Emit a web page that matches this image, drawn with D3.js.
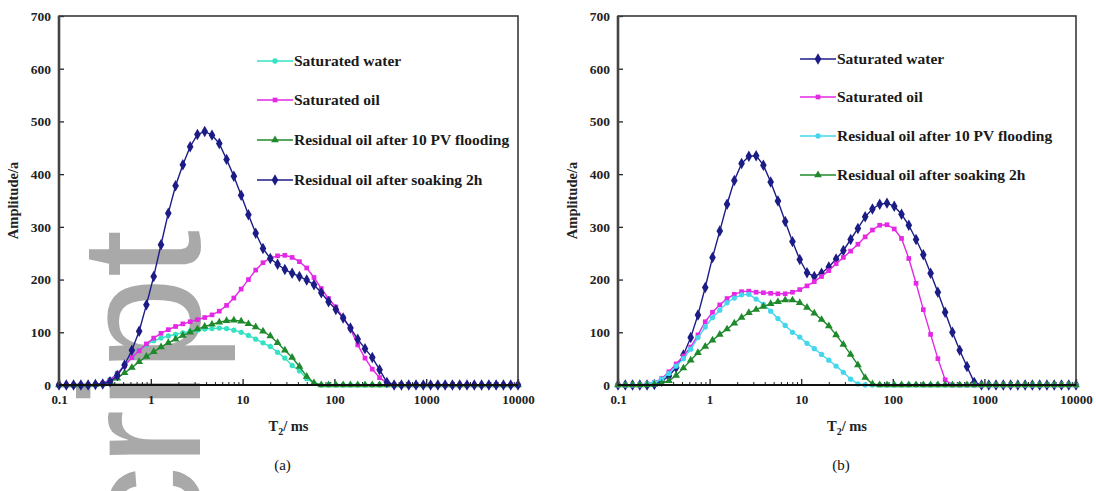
<!DOCTYPE html>
<html>
<head>
<meta charset="utf-8">
<script src="https://cdn.jsdelivr.net/npm/d3@7"></script>
<style>
  body { margin: 0; background: #fff; }
  svg { display: block; }
</style>
</head>
<body>
<svg id="chart" width="1096" height="491"></svg>
<script>
// NMR T2 relaxation grid (ms), 64 log-spaced points from 0.1 to 10000
const t2 = [
  0.1, 0.1201, 0.1441, 0.173, 0.2077, 0.2493, 0.2994, 0.3594, 0.4314, 0.5179,
  0.6218, 0.7464, 0.896, 1.0758, 1.2915, 1.5505, 1.8615, 2.2346, 2.6827, 3.2206,
  3.8663, 4.6416, 5.5722, 6.6896, 8.0308, 9.6412, 11.574, 13.895, 16.681, 20.025,
  24.04, 28.862, 34.647, 41.595, 49.934, 59.948, 71.969, 86.398, 103.72, 124.52,
  149.49, 179.46, 215.44, 258.65, 310.5, 372.76, 447.51, 537.24, 644.96, 774.26,
  929.52, 1115.9, 1339.6, 1608.2, 1930.7, 2317.8, 2782.6, 3340.5, 4010.4, 4814.5,
  5779.8, 6938.8, 8330, 10000
];

const xTickValues = [0.1, 1, 10, 100, 1000, 10000];
const xTickLabels = ["0.1", "1", "10", "100", "1000", "10000"];
const yTickValues = [0, 100, 200, 300, 400, 500, 600, 700];

// Panel (a) amplitudes
const aSaturatedWater = [
  0, 0, 0, 0, 0, 1, 3, 10, 22, 38,
  52, 66, 76, 84, 89, 93, 96, 99, 102, 104,
  106, 107, 108, 107, 104, 100, 94, 87, 80, 73,
  62, 51, 37, 27, 12, 3, 0, 0, 0, 0,
  0, 0, 0, 0, 0, 0, 0, 0, 0, 0,
  0, 0, 0, 0, 0, 0, 0, 0, 0, 0,
  0, 0, 0, 0
];
const aSaturatedOil = [
  0, 0, 0, 0, 0, 1, 3, 9, 22, 36,
  52, 65, 78, 89, 98, 105, 111, 116, 120, 124,
  128, 133, 140, 151, 165, 182, 200, 218, 232, 241,
  245, 246, 242, 234, 222, 204, 183, 164, 148, 128,
  107, 76, 51, 30, 14, 4, 0, 0, 0, 0,
  0, 0, 0, 0, 0, 0, 0, 0, 0, 0,
  0, 0, 0, 0
];
const aFlooding = [
  0, 0, 0, 0, 0, 1, 2, 6, 13, 23,
  33, 44, 54, 63, 72, 80, 87, 94, 100, 106,
  111, 115, 119, 122, 123, 121, 116, 110, 102, 93,
  80, 66, 52, 35, 16, 4, 0, 0, 0, 0,
  0, 0, 0, 0, 0, 0, 0, 0, 0, 0,
  0, 0, 0, 0, 0, 0, 0, 0, 0, 0,
  0, 0, 0, 0
];
const aSoaking = [
  0, 0, 0, 0, 0, 1, 2, 6, 18, 38,
  66, 102, 152, 206, 266, 326, 378, 418, 452, 475,
  481, 474, 458, 428, 396, 360, 323, 288, 259, 240,
  229, 219, 212, 206, 199, 190, 175, 158, 143, 127,
  108, 87, 69, 52, 29, 5, 0, 0, 0, 0,
  0, 0, 0, 0, 0, 0, 0, 0, 0, 0,
  0, 0, 0, 0
];

// Panel (b) amplitudes
const bSaturatedWater = [
  0, 0, 0, 0, 0, 1, 7, 17, 33, 57,
  90, 133, 185, 242, 292, 343, 388, 420, 434, 435,
  417, 385, 349, 310, 272, 238, 213, 206, 212, 224,
  239, 255, 276, 297, 319, 334, 343, 345, 339, 324,
  303, 276, 247, 212, 176, 138, 100, 66, 35, 5,
  0, 0, 0, 0, 0, 0, 0, 0, 0, 0,
  0, 0, 0, 0
];
const bSaturatedOil = [
  0, 0, 0, 0, 2, 5, 12, 25, 40, 55,
  72, 95, 120, 138, 152, 164, 172, 177, 178, 176,
  175, 174, 173, 173, 176, 181, 188, 196, 206, 217,
  230, 242, 254, 267, 281, 294, 303, 304, 296, 278,
  240, 193, 143, 96, 50, 10, 0, 0, 0, 0,
  0, 0, 0, 0, 0, 0, 0, 0, 0, 0,
  0, 0, 0, 0
];
const bFlooding = [
  0, 0, 0, 0, 2, 5, 11, 22, 36, 50,
  68, 90, 110, 128, 142, 156, 165, 171, 172, 163,
  153, 140, 126, 113, 100, 91, 79, 69, 58, 47,
  36, 24, 11, 2, 0, 0, 0, 0, 0, 0,
  0, 0, 0, 0, 0, 0, 0, 0, 0, 0,
  0, 0, 0, 0, 0, 0, 0, 0, 0, 0,
  0, 0, 0, 0
];
const bSoaking = [
  0, 0, 0, 0, 0, 1, 3, 8, 18, 32,
  47, 61, 73, 85, 96, 106, 117, 128, 137, 143,
  149, 154, 158, 161, 161, 156, 147, 136, 124, 112,
  95, 77, 58, 38, 14, 2, 0, 0, 0, 0,
  0, 0, 0, 0, 0, 0, 0, 0, 0, 0,
  0, 0, 0, 0, 0, 0, 0, 0, 0, 0,
  0, 0, 0, 0
];

const navy = "#1c1c86", magenta = "#e428e4", green = "#1f8a2c";

const panels = [
  {
    left: 59, right: 518, tag: "(a)",
    legendX: 257, legendY: [61, 100, 140, 180],
    series: [
      { name: "Saturated water", values: aSaturatedWater, color: "#36e2c4", symbol: d3.symbolCircle, size: 22 },
      { name: "Saturated oil", values: aSaturatedOil, color: magenta, symbol: d3.symbolSquare, size: 22 },
      { name: "Residual oil after 10 PV flooding", values: aFlooding, color: green, symbol: d3.symbolTriangle, size: 26 },
      { name: "Residual oil after soaking 2h", values: aSoaking, color: navy, symbol: d3.symbolDiamond, size: 38 }
    ]
  },
  {
    left: 618, right: 1076, tag: "(b)",
    legendX: 800, legendY: [59, 97, 136, 175],
    series: [
      { name: "Saturated water", values: bSaturatedWater, color: navy, symbol: d3.symbolDiamond, size: 38 },
      { name: "Saturated oil", values: bSaturatedOil, color: magenta, symbol: d3.symbolSquare, size: 22 },
      { name: "Residual oil after 10 PV flooding", values: bFlooding, color: "#44d6ec", symbol: d3.symbolCircle, size: 22 },
      { name: "Residual oil after soaking 2h", values: bSoaking, color: green, symbol: d3.symbolTriangle, size: 26 }
    ]
  }
];

const plotTop = 16, plotBottom = 385;
const serif = "'Liberation Serif','Times New Roman',serif";
const svg = d3.select("#chart");

// grey page watermark behind the plots
svg.append("text")
  .attr("transform", "translate(200,230) rotate(-90)")
  .attr("text-anchor", "end")
  .attr("font-family", "'Liberation Sans',Arial,sans-serif")
  .attr("font-size", 170)
  .attr("fill", "#a9a9a9")
  .text("Manuscript");

const y = d3.scaleLinear().domain([0, 700]).range([plotBottom, plotTop]);

panels.forEach(p => {
  const x = d3.scaleLog().domain([0.1, 10000]).range([p.left, p.right]);
  const g = svg.append("g");

  // minor x ticks (2..9 within each decade)
  const minor = [];
  for (let d = 0; d < 5; d++) {
    const base = xTickValues[d];
    [2, 3, 4, 5, 6, 7, 8, 9].forEach(m => minor.push(base * m));
  }
  g.append("g")
    .attr("transform", `translate(0,${plotBottom})`)
    .call(d3.axisBottom(x).tickValues(minor).tickSize(-3).tickFormat(""))
    .call(s => s.select(".domain").remove())
    .call(s => s.selectAll("line").attr("stroke", "#222").attr("stroke-width", 1));

  // major x ticks and labels
  g.append("g")
    .attr("transform", `translate(0,${plotBottom})`)
    .call(d3.axisBottom(x).tickValues(xTickValues).tickSize(-6).tickPadding(10)
      .tickFormat((d, i) => xTickLabels[i]))
    .call(s => s.select(".domain").remove())
    .call(s => s.selectAll("line").attr("stroke", "#222").attr("stroke-width", 1.3))
    .call(s => s.selectAll("text").attr("font-family", serif).attr("font-weight", "bold")
      .attr("font-size", 13).attr("fill", "#222"));

  // y ticks and labels
  g.append("g")
    .attr("transform", `translate(${p.left},0)`)
    .call(d3.axisLeft(y).tickValues(yTickValues).tickSize(-5).tickPadding(8))
    .call(s => s.select(".domain").remove())
    .call(s => s.selectAll("line").attr("stroke", "#222").attr("stroke-width", 1.3))
    .call(s => s.selectAll("text").attr("font-family", serif).attr("font-weight", "bold")
      .attr("font-size", 13.5).attr("fill", "#222"));

  // series lines and markers
  p.series.forEach(s => {
    const pts = t2.map((t, i) => [t, s.values[i]]);
    g.append("path")
      .datum(pts)
      .attr("fill", "none")
      .attr("stroke", s.color)
      .attr("stroke-width", 1.4)
      .attr("d", d3.line().x(d => x(d[0])).y(d => y(d[1])));
    const sym = d3.symbol().type(s.symbol).size(s.size);
    g.append("g").selectAll("path")
      .data(pts)
      .join("path")
      .attr("transform", d => `translate(${x(d[0])},${y(d[1])})`)
      .attr("d", sym)
      .attr("fill", s.color);
  });

  // frame
  g.append("rect")
    .attr("x", p.left).attr("y", plotTop)
    .attr("width", p.right - p.left).attr("height", plotBottom - plotTop)
    .attr("fill", "none").attr("stroke", "#3a3a3a").attr("stroke-width", 1.6);
  g.append("line")
    .attr("x1", p.left).attr("x2", p.left).attr("y1", plotTop).attr("y2", plotBottom)
    .attr("stroke", "#444").attr("stroke-width", 2.6);
  g.append("line")
    .attr("x1", p.left).attr("x2", p.right).attr("y1", plotBottom).attr("y2", plotBottom)
    .attr("stroke", "#111").attr("stroke-width", 1.8);

  // legend
  p.series.forEach((s, i) => {
    const ly = p.legendY[i];
    const lx1 = p.legendX, lx2 = p.legendX + 36;
    g.append("line").attr("x1", lx1).attr("x2", lx2).attr("y1", ly).attr("y2", ly)
      .attr("stroke", s.color).attr("stroke-width", 1.6);
    g.append("path")
      .attr("transform", `translate(${(lx1 + lx2) / 2},${ly})`)
      .attr("d", d3.symbol().type(s.symbol).size(s.size)())
      .attr("fill", s.color);
    g.append("text")
      .attr("x", lx2 + 1).attr("y", ly).attr("dy", "0.35em")
      .attr("font-family", serif).attr("font-weight", "bold").attr("font-size", 15.5)
      .attr("fill", "#1a1a1a")
      .text(s.name);
  });

  // axis titles
  const cx = (p.left + p.right) / 2;
  const xt = g.append("text")
    .attr("x", cx).attr("y", 431).attr("text-anchor", "middle")
    .attr("font-family", serif).attr("font-weight", "bold").attr("font-size", 14.5)
    .attr("fill", "#222");
  xt.append("tspan").text("T");
  xt.append("tspan").attr("font-size", 10).attr("dy", 4).text("2");
  xt.append("tspan").attr("dy", -4).text("/ ms");

  g.append("text")
    .attr("transform", `translate(${p.left - 41},${(plotTop + plotBottom) / 2}) rotate(-90)`)
    .attr("text-anchor", "middle")
    .attr("font-family", serif).attr("font-weight", "bold").attr("font-size", 14.5)
    .attr("fill", "#222")
    .text("Amplitude/a");

  // panel tag
  g.append("text")
    .attr("x", cx - 6).attr("y", 470).attr("text-anchor", "middle")
    .attr("font-family", serif).attr("font-size", 15).attr("fill", "#111")
    .text(p.tag);
});
</script>
</body>
</html>
